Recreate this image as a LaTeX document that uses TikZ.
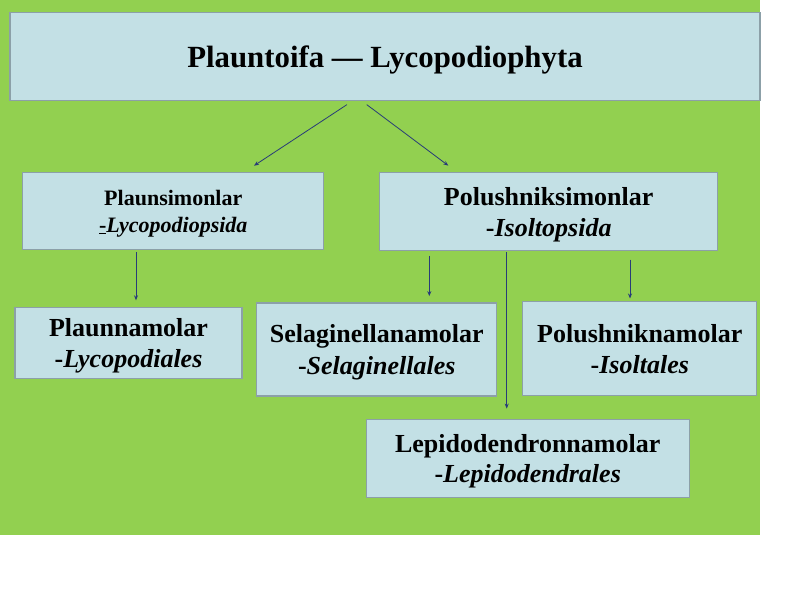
\documentclass[tikz,border=0pt]{standalone}
\usepackage{fontspec}
\setmainfont{Liberation Serif}
\usetikzlibrary{arrows.meta}

\definecolor{leafgreen}{RGB}{146,208,80}
\definecolor{boxfill}{RGB}{195,224,229}
\definecolor{boxline}{RGB}{140,160,168}
\definecolor{arrline}{RGB}{40,60,120}

\begin{document}
\begin{tikzpicture}[x=1pt, y=-1pt,
  box/.style={draw=boxline, line width=1.2pt, fill=boxfill, align=center,
    inner sep=0pt, text depth=0pt, font=\bfseries},
  arr/.style={draw=arrline, line width=0.8pt,
    -{Stealth[length=5pt, width=4pt, fill=arrline!70!blue]}}]

  %% Page and green background.
  \fill[white] (0,0) rectangle (800,600);
  \fill[leafgreen] (0,0) rectangle (760,535);


  %% Title box.
  \node[box, minimum width=750pt, minimum height=88pt,
    font=\bfseries\fontsize{30.8}{37}\selectfont] (title) at (385,56.5)
  {Plauntoifa --- Lycopodiophyta};


  %% Classes.
  \node[box, minimum width=301pt, minimum height=77pt,
    font=\bfseries\fontsize{22}{26.4}\selectfont] (plaunsimon) at (173.3,211.3)
  {Plaunsimonlar\\\underline{-}\textit{Lycopodiopsida}};
  \node[box, minimum width=338pt, minimum height=78pt,
    font=\bfseries\fontsize{26}{31.2}\selectfont] (polusimon) at (548.7,211.7)
  {Polushniksimonlar\\-\textit{Isoltopsida}};


  %% Orders.
  \node[box, minimum width=227pt, minimum height=71pt,
    font=\bfseries\fontsize{26}{31.2}\selectfont] (plaunnam) at (128.5,343.1)
  {Plaunnamolar\\-\textit{Lycopodiales}};
  \node[box, minimum width=240pt, minimum height=93pt,
    font=\bfseries\fontsize{26}{31.2}\selectfont] (selagin) at (376.8,349.5)
  {Selaginellanamolar\\-\textit{Selaginellales}};
  \node[box, minimum width=234pt, minimum height=94pt,
    font=\bfseries\fontsize{26}{31.2}\selectfont] (polusnam) at (639.8,348.8)
  {Polushniknamolar\\-\textit{Isoltales}};
  \node[box, minimum width=323pt, minimum height=78pt,
    font=\bfseries\fontsize{26}{30}\selectfont] (lepido) at (527.7,458.2)
  {Lepidodendronnamolar\\-\textit{Lepidodendrales}};


  %% Arrows from the title.
  \draw[arr] ([xshift=-38pt, yshift=-3.5pt]title.south)
  -- ([xshift=80.7pt, yshift=6.5pt]plaunsimon.north);
  \draw[arr] ([xshift=-18.3pt, yshift=-3.5pt]title.south)
  -- ([xshift=-100.4pt, yshift=6.5pt]polusimon.north);

  %% Arrows down to the orders.
  \draw[arr, shorten >=6.7pt] ([xshift=-37.3pt, yshift=-2pt]plaunsimon.south)
  -- ([xshift=-37.3pt]plaunsimon.south |- plaunnam.north);
  \draw[arr, shorten >=6.3pt] ([xshift=-119.4pt, yshift=-4.3pt]polusimon.south)
  -- ([xshift=-119.4pt]polusimon.south |- selagin.north);
  \draw[arr, shorten >=10pt] ([xshift=-42pt, yshift=-1pt]polusimon.south)
  -- ([xshift=-42pt]polusimon.south |- lepido.north);
  \draw[arr, shorten >=2.7pt] ([xshift=81.3pt, yshift=-8.3pt]polusimon.south)
  -- ([xshift=81.3pt]polusimon.south |- polusnam.north);

\end{tikzpicture}
\end{document}
